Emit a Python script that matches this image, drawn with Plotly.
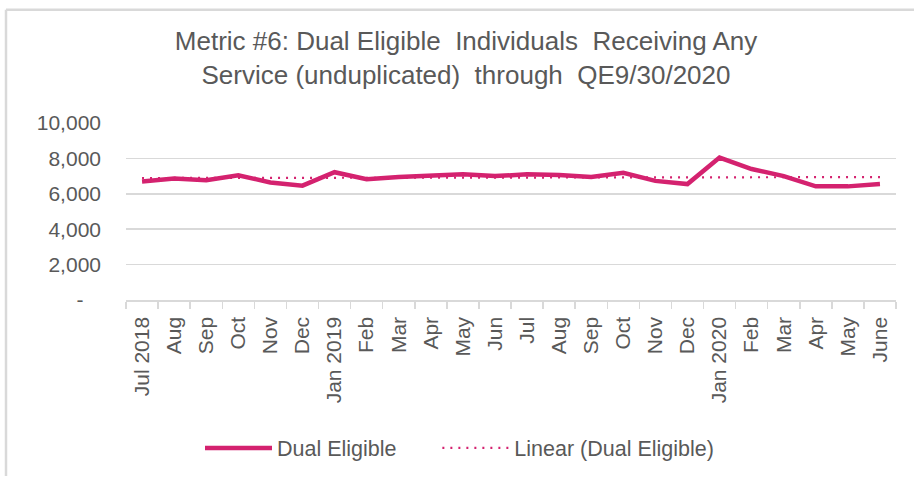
import numpy as np
import plotly.graph_objects as go

month_labels = ["Jul 2018", "Aug", "Sep", "Oct", "Nov", "Dec", "Jan 2019", "Feb", "Mar", "Apr",
                "May", "Jun", "Jul", "Aug", "Sep", "Oct", "Nov", "Dec", "Jan 2020", "Feb",
                "Mar", "Apr", "May", "June"]
dual_eligible = [6700, 6860, 6770, 7050, 6640, 6460, 7220, 6820, 6950, 7020,
                 7100, 7000, 7100, 7060, 6950, 7190, 6730, 6550, 8050, 7400,
                 7000, 6420, 6420, 6550]
y_tick_vals = [0, 2000, 4000, 6000, 8000, 10000]
y_tick_text = ["-\u00a0\u00a0\u00a0", "2,000", "4,000", "6,000", "8,000", "10,000"]
series_names = ["Dual Eligible", "Linear (Dual Eligible)"]

x_idx = np.arange(len(month_labels))
slope, intercept = np.polyfit(x_idx, dual_eligible, 1)
trend = slope * x_idx + intercept

PINK = "#d4226f"
GREY_TXT = "#595959"
GRID = "#d9d9d9"
FONT = "Liberation Sans, Arial, sans-serif"

fig = go.Figure()
fig.add_trace(go.Scatter(x=x_idx, y=dual_eligible, mode="lines",
                         name=series_names[0] + "\u00a0" * 6,
                         line=dict(color=PINK, width=4.5)))
fig.add_trace(go.Scatter(x=x_idx, y=trend, mode="lines", name=series_names[1],
                         line=dict(color=PINK, width=2.2, dash="2px,6px")))

# plot area: x 126..896, y 123..305
L, R, T, B = 126, 18, 123, 176
W, H = 914, 481
pw, ph = W - L - R, H - T - B

def px(xp):
    return (xp - L) / pw

def py(yp):
    return (H - B - yp) / ph

fig.update_layout(
    width=W, height=H,
    margin=dict(l=L, r=R, t=T, b=B),
    paper_bgcolor="white", plot_bgcolor="white",
    font=dict(family=FONT, color=GREY_TXT, size=20),
    title=dict(text="Metric #6: Dual Eligible  Individuals  Receiving Any<br>Service (unduplicated)  through  QE9/30/2020",
               x=466 / W, xanchor="center", xref="container",
               y=1 - 50 / H, yanchor="top", yref="container",
               font=dict(size=26, color=GREY_TXT, family=FONT)),
    showlegend=True,
    legend=dict(orientation="h", x=px(200), xanchor="left", y=py(436), yanchor="top",
                font=dict(size=21.5, color=GREY_TXT), itemwidth=67,
                bgcolor="rgba(0,0,0,0)"),
    xaxis=dict(range=[-0.5, len(month_labels) - 0.5], tickmode="array", tickvals=list(x_idx),
               ticktext=month_labels, tickangle=-90, showgrid=False, zeroline=False,
               showline=True, linecolor=GRID, linewidth=1.5,
               ticks="outside", ticklen=7, tickcolor="rgba(0,0,0,0)",
               tickfont=dict(size=21, color=GREY_TXT),
               minor=dict(ticks="outside", ticklen=7, tickcolor=GRID, tickwidth=1.5,
                          tickmode="linear", tick0=-0.5, dtick=1, showgrid=False)),
    yaxis=dict(range=[0, 10000], tickmode="array", tickvals=y_tick_vals, ticktext=y_tick_text,
               showgrid=True, gridcolor=GRID, gridwidth=1.5, zeroline=False, showline=False,
               ticks="", ticklabelstandoff=24, tickfont=dict(size=21, color=GREY_TXT)),
    shapes=[
        dict(type="line", xref="paper", yref="paper", x0=px(6), x1=px(W + 5), y0=py(6.5), y1=py(6.5),
             line=dict(color=GRID, width=2.5)),
        dict(type="line", xref="paper", yref="paper", x0=px(6), x1=px(6), y0=py(6.5), y1=py(H + 5),
             line=dict(color=GRID, width=2.5)),
    ],
)

fig.write_html("out.html", config={"displayModeBar": False, "staticPlot": True},
               post_script="document.body.style.margin='0';document.body.style.overflow='hidden';")
